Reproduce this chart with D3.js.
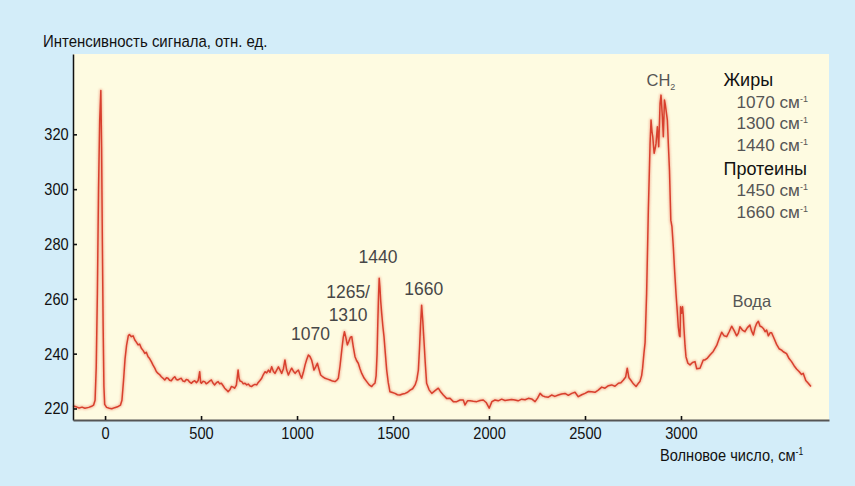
<!DOCTYPE html>
<html lang="ru">
  <head>
    <meta charset="UTF-8" />
    <title>Спектр</title>
    <style>
      body {
        margin: 0;
        background: #d3edf9;
      }
      .narrow {
        font-family: "Liberation Sans", Arial, sans-serif;
      }
      .light {
        font-family: "Liberation Sans", Arial, sans-serif;
      }
    </style>
  </head>
  <body>
    <div id="chart"></div>
    <script src="https://cdnjs.cloudflare.com/ajax/libs/d3/7.8.5/d3.min.js"></script>
    <script>
      // spectrum
      var wavenumber = [
        -167, -150, -135, -120, -105, -85, -70, -60, -52, -46, -40, -34, -28, -22, -18, -14, -10, -6, -2, 8, 22, 35, 50, 65, 80, 88, 96, 104, 112, 121,
        127, 137, 146, 155, 163, 172, 180, 189, 198, 207, 215, 224, 232, 241, 250, 259, 267, 276, 285, 293, 302, 311, 320, 328, 336, 345, 354, 363, 371, 380,
        389, 397, 406, 415, 423, 432, 441, 450, 458, 467, 476, 485, 493, 498, 502, 510, 519, 527, 536, 545, 554, 562, 571, 580, 589, 597, 606, 615, 623, 632,
        641, 650, 658, 667, 675, 684, 693, 698, 703, 712, 720, 729, 738, 746, 755, 764, 772, 781, 790, 798, 807, 816, 824, 833, 842, 851, 859, 868, 877, 885,
        894, 903, 911, 920, 929, 937, 946, 955, 963, 972, 981, 990, 998, 1007, 1016, 1024, 1033, 1042, 1050, 1059, 1067, 1076, 1082, 1088, 1097, 1106, 1114, 1123, 1135, 1146,
        1159, 1172, 1185, 1198, 1207, 1215, 1224, 1233, 1241, 1247, 1254, 1262, 1270, 1278, 1285, 1293, 1302, 1310, 1319, 1328, 1337, 1350, 1363, 1376, 1389, 1398, 1406, 1412, 1417, 1421,
        1425, 1428, 1432, 1436, 1441, 1447, 1453, 1460, 1467, 1475, 1484, 1497, 1510, 1523, 1536, 1550, 1563, 1576, 1589, 1602, 1615, 1624, 1632, 1638, 1643, 1649, 1655, 1661, 1668, 1675,
        1688, 1702, 1719, 1736, 1749, 1762, 1780, 1797, 1814, 1832, 1849, 1866, 1875, 1888, 1901, 1918, 1936, 1953, 1970, 1985, 2001, 2015, 2031, 2048, 2066, 2083, 2100, 2118, 2135, 2152,
        2170, 2188, 2205, 2222, 2240, 2253, 2266, 2279, 2292, 2309, 2326, 2343, 2361, 2378, 2396, 2413, 2431, 2448, 2465, 2483, 2500, 2518, 2535, 2552, 2569, 2587, 2604, 2622, 2639, 2656,
        2674, 2687, 2700, 2712, 2720, 2729, 2738, 2752, 2766, 2776, 2786, 2795, 2800, 2807, 2813, 2821, 2830, 2839, 2844, 2849, 2853, 2860, 2866, 2870, 2877, 2884, 2891, 2896, 2903, 2908,
        2914, 2918, 2922, 2929, 2935, 2940, 2947, 2953, 2960, 2967, 2974, 2981, 2986, 2992, 2995, 2998, 3003, 3008, 3012, 3015, 3021, 3026, 3036, 3047, 3060, 3073, 3082, 3099, 3116, 3125,
        3138, 3151, 3168, 3186, 3199, 3212, 3225, 3238, 3251, 3264, 3277, 3290, 3299, 3307, 3320, 3333, 3346, 3359, 3368, 3377, 3386, 3394, 3403, 3412, 3420, 3429, 3438, 3446, 3455, 3464,
        3472, 3485, 3498, 3511, 3524, 3533, 3550, 3563, 3576, 3589, 3602, 3615, 3628, 3637, 3650, 3663, 3677
      ];
      var intensity = [
        220.9, 220.6, 220.2, 220.5, 220.1, 220.4, 220.8, 221.2, 223, 235, 262, 300, 325, 336, 315, 280, 250, 228, 221.5, 220.4, 220.1, 219.9, 220.3, 220.6, 221.2, 223, 230, 238, 243, 246.5,
        247, 246.2, 246.5, 245.0, 244.2, 243.2, 243.5, 242.0, 241.2, 240.1, 240.5, 238.9, 238.2, 237.1, 235.8, 234.7, 233.5, 232.8, 232.3, 231.6, 231.0, 230.4, 231.2, 231.0, 230.3, 230.1, 231.0, 231.6, 230.6, 230.4,
        230.8, 231.0, 230.0, 229.8, 230.6, 230.4, 229.6, 229.2, 229.8, 230.1, 229.4, 230.2, 233.4, 229.5, 229.2, 229.9, 229.8, 229.0, 229.4, 230.0, 230.4, 229.3, 228.6, 229.4, 229.8, 229.0, 229.2, 228.3, 227.4, 226.8,
        226.1, 226.8, 228.0, 227.8, 227.4, 228.5, 234.0, 231.0, 230.0, 229.8, 229.0, 229.2, 228.6, 228.9, 228.2, 228.0, 228.5, 228.8, 228.6, 229.5, 230.2, 231.0, 232.3, 233.4, 233.0, 234.0, 233.2, 235.2, 233.5, 232.8,
        234.0, 235.2, 234.1, 232.8, 234.5, 237.7, 234.0, 232.2, 233.5, 234.7, 233.6, 232.8, 233.5, 234.0, 232.3, 231.0, 233.2, 235.9, 237.8, 239.5, 239.0, 237.7, 236.0, 234.0, 235.2, 236.5, 234.4, 232.2, 231.5, 231.0,
        230.7, 230.4, 230.0, 229.8, 230.3, 231.0, 235.5, 241.3, 246.0, 248.0, 246.0, 243.2, 244.5, 246.0, 246.2, 242.5, 238.9, 237.5, 236.5, 234.5, 232.8, 231.0, 229.8, 228.6, 228.0, 228.8, 229.2, 232.0, 240.0, 252.0,
        262.0, 267.5, 264.0, 259.0, 254.7, 250.0, 246.2, 240.0, 234.0, 229.5, 226.1, 225.8, 225.5, 225.0, 224.9, 225.3, 225.5, 225.9, 226.7, 227.2, 228.6, 230.5, 234.0, 242.0, 250.0, 257.7, 252.0, 245.0, 236.5, 229.2,
        226.8, 225.5, 226.5, 227.4, 226.0, 224.9, 223.6, 223.7, 222.5, 222.5, 223.1, 223.1, 221.3, 222.8, 222.8, 222.6, 222.5, 222.9, 223.1, 222.2, 220.1, 222.5, 223.1, 222.8, 223.4, 222.9, 223.1, 223.3, 223.1, 222.8,
        223.4, 223.2, 223.7, 223.5, 222.5, 223.8, 225.5, 224.6, 224.3, 224.1, 224.9, 224.4, 224.9, 225.3, 225.5, 224.8, 225.5, 225.9, 224.3, 225.0, 225.5, 226.2, 226.1, 225.9, 226.7, 227.8, 227.4, 228.3, 228.6, 228.1,
        229.2, 229.4, 230.4, 231.5, 234.7, 231.2, 230.4, 229.0, 228.0, 229.0, 229.8, 232.0, 234.7, 240.1, 244.0, 262.0, 292.4, 316.7, 325.2, 321.0, 319.1, 313.1, 315.0, 316.7, 322.8, 315.5, 331.3, 334.3, 326.4, 319.1,
        332.5, 331.0, 328.9, 325.2, 315.0, 307.0, 288.7, 286.3, 279.0, 270.0, 262.0, 255.0, 249.8, 246.5, 246.2, 257.1, 254.7, 257.1, 254.0, 249.8, 243.0, 238.9, 236.5, 235.9, 236.8, 237.1, 234.5, 234.7, 237.7, 237.7,
        238.4, 239.5, 240.8, 243.0, 245.5, 247.8, 246.5, 246.2, 248.0, 250.0, 248.4, 246.5, 247.5, 249.8, 248.6, 248.0, 249.5, 250.4, 248.2, 246.8, 249.5, 251.0, 251.8, 250.0, 249.8, 249.2, 248.0, 248.6, 246.5, 247.6,
        247.6, 245.5, 243.4, 241.8, 241.3, 240.7, 240.0, 238.2, 237.1, 235.6, 234.4, 233.5, 232.4, 232.8, 230.2, 229.2, 228.0
      ];

      var xTicks = [0, 500, 1000, 1500, 2000, 2500, 3000];
      var yTicks = [220, 240, 260, 280, 300, 320];

      // peak annotations: text, wavenumber, level
      var peakText = ["1070", "1265/", "1310", "1440", "1660"];
      var peakAt = [1070, 1266, 1266, 1422, 1660];
      var peakLevel = [245, 260.2, 252, 273, 261.4];

      var legendRows = ["Жиры", "1070", "1300", "1440", "Протеины", "1450", "1660"];
      var legendHead = [true, false, false, false, true, false, false];

      var W = 855,
        H = 486;
      var margin = { top: 54, right: 26, bottom: 66, left: 73 };
      var squeeze = "scale(0.86,1)";

      var svg = d3
        .select("#chart")
        .append("svg")
        .attr("width", W)
        .attr("height", H);

      svg.append("rect").attr("width", W).attr("height", H).attr("fill", "#d3edf9");

      var x = d3
        .scaleLinear()
        .domain([-167, 3771])
        .range([margin.left, W - margin.right]);
      var y = d3
        .scaleLinear()
        .domain([215.8, 349.3])
        .range([H - margin.bottom, margin.top]);

      // plot background
      svg
        .append("rect")
        .attr("x", margin.left)
        .attr("y", margin.top)
        .attr("width", W - margin.left - margin.right)
        .attr("height", H - margin.top - margin.bottom)
        .attr("fill", "#fefbe1");

      var defs = svg.append("defs");
      defs
        .append("filter")
        .attr("id", "soft")
        .append("feGaussianBlur")
        .attr("stdDeviation", 0.9);

      var pts = wavenumber.map(function (w, i) {
        return [w, intensity[i]];
      });
      var line = d3
        .line()
        .x(function (d) {
          return x(d[0]);
        })
        .y(function (d) {
          return y(d[1]);
        });

      svg
        .append("path")
        .datum(pts)
        .attr("d", line)
        .attr("fill", "none")
        .attr("stroke", "#f09a7e")
        .attr("stroke-width", 3.4)
        .attr("stroke-linejoin", "round")
        .attr("opacity", 0.6)
        .attr("filter", "url(#soft)");
      svg
        .append("path")
        .datum(pts)
        .attr("d", line)
        .attr("fill", "none")
        .attr("stroke", "#d8402e")
        .attr("stroke-width", 1.5)
        .attr("stroke-linejoin", "round");

      // axes
      var yAxis = svg
        .append("g")
        .attr("class", "narrow")
        .attr("transform", "translate(" + margin.left + ",0)")
        .call(d3.axisLeft(y).tickValues(yTicks).tickSize(-4).tickSizeOuter(0).tickPadding(5));
      yAxis.select(".domain").attr("stroke", "#111").attr("stroke-width", 1.5);
      yAxis.selectAll(".tick line").attr("stroke", "#111").attr("stroke-width", 1.6);
      yAxis
        .selectAll("text")
        .attr("font-size", 17)
        .attr("fill", "#111")
        .attr("font-family", null)
        .attr("transform", squeeze);

      var xAxis = svg
        .append("g")
        .attr("class", "narrow")
        .attr("transform", "translate(0," + (H - margin.bottom) + ")")
        .call(
          d3
            .axisBottom(x)
            .tickValues(xTicks)
            .tickFormat(d3.format("d"))
            .tickSize(-4)
            .tickSizeOuter(0)
            .tickPadding(7)
        );
      xAxis.select(".domain").attr("stroke", "#555").attr("stroke-width", 2);
      xAxis.selectAll(".tick line").attr("stroke", "#111").attr("stroke-width", 1.6);
      xAxis
        .selectAll("text")
        .attr("font-size", 17)
        .attr("fill", "#111")
        .attr("font-family", null)
        .attr("transform", squeeze);

      // axis titles
      svg
        .append("text")
        .attr("class", "narrow")
        .attr("transform", "translate(43,46.5) " + squeeze)
        .attr("font-size", 17.4)
        .attr("fill", "#111")
        .text("Интенсивность сигнала, отн. ед.");

      var xt = svg
        .append("text")
        .attr("class", "narrow")
        .attr("transform", "translate(660,461) " + squeeze)
        .attr("font-size", 17)
        .attr("fill", "#111");
      xt.append("tspan").text("Волновое число, см");
      xt.append("tspan").attr("dy", -6).attr("font-size", 10).text("-1");

      // peak labels
      svg
        .append("g")
        .attr("class", "light")
        .selectAll("text")
        .data(peakText)
        .join("text")
        .attr("x", function (d, i) {
          return x(peakAt[i]);
        })
        .attr("y", function (d, i) {
          return y(peakLevel[i]);
        })
        .attr("text-anchor", "middle")
        .attr("font-size", 17.5)
        .attr("fill", "#474747")
        .text(function (d) {
          return d;
        });

      var ch = svg
        .append("text")
        .attr("class", "light")
        .attr("x", 646.5)
        .attr("y", 85.7)
        .attr("font-size", 16.5)
        .attr("fill", "#555");
      ch.append("tspan").text("CH");
      ch.append("tspan").attr("dy", 4).attr("font-size", 9).text("2");

      svg
        .append("text")
        .attr("class", "light")
        .attr("x", 732.5)
        .attr("y", 306.7)
        .attr("font-size", 16.5)
        .attr("fill", "#555")
        .text("Вода");

      // legend block
      var rowY = [85.7, 107.7, 129.3, 151, 174.5, 196, 217.7];
      var lg = svg
        .append("g")
        .attr("class", "light")
        .selectAll("text")
        .data(legendRows)
        .join("text")
        .attr("x", function (d, i) {
          return legendHead[i] ? 723.5 : 736.5;
        })
        .attr("y", function (d, i) {
          return rowY[i];
        })
        .attr("font-size", function (d, i) {
          return legendHead[i] ? 18 : 17.2;
        })
        .attr("fill", function (d, i) {
          return legendHead[i] ? "#111" : "#555";
        });
      lg.append("tspan").text(function (d, i) {
        return legendHead[i] ? d : d + " см";
      });
      lg.filter(function (d, i) {
        return !legendHead[i];
      })
        .append("tspan")
        .attr("dy", -6)
        .attr("font-size", 9)
        .text("-1");
    </script>
  </body>
</html>
